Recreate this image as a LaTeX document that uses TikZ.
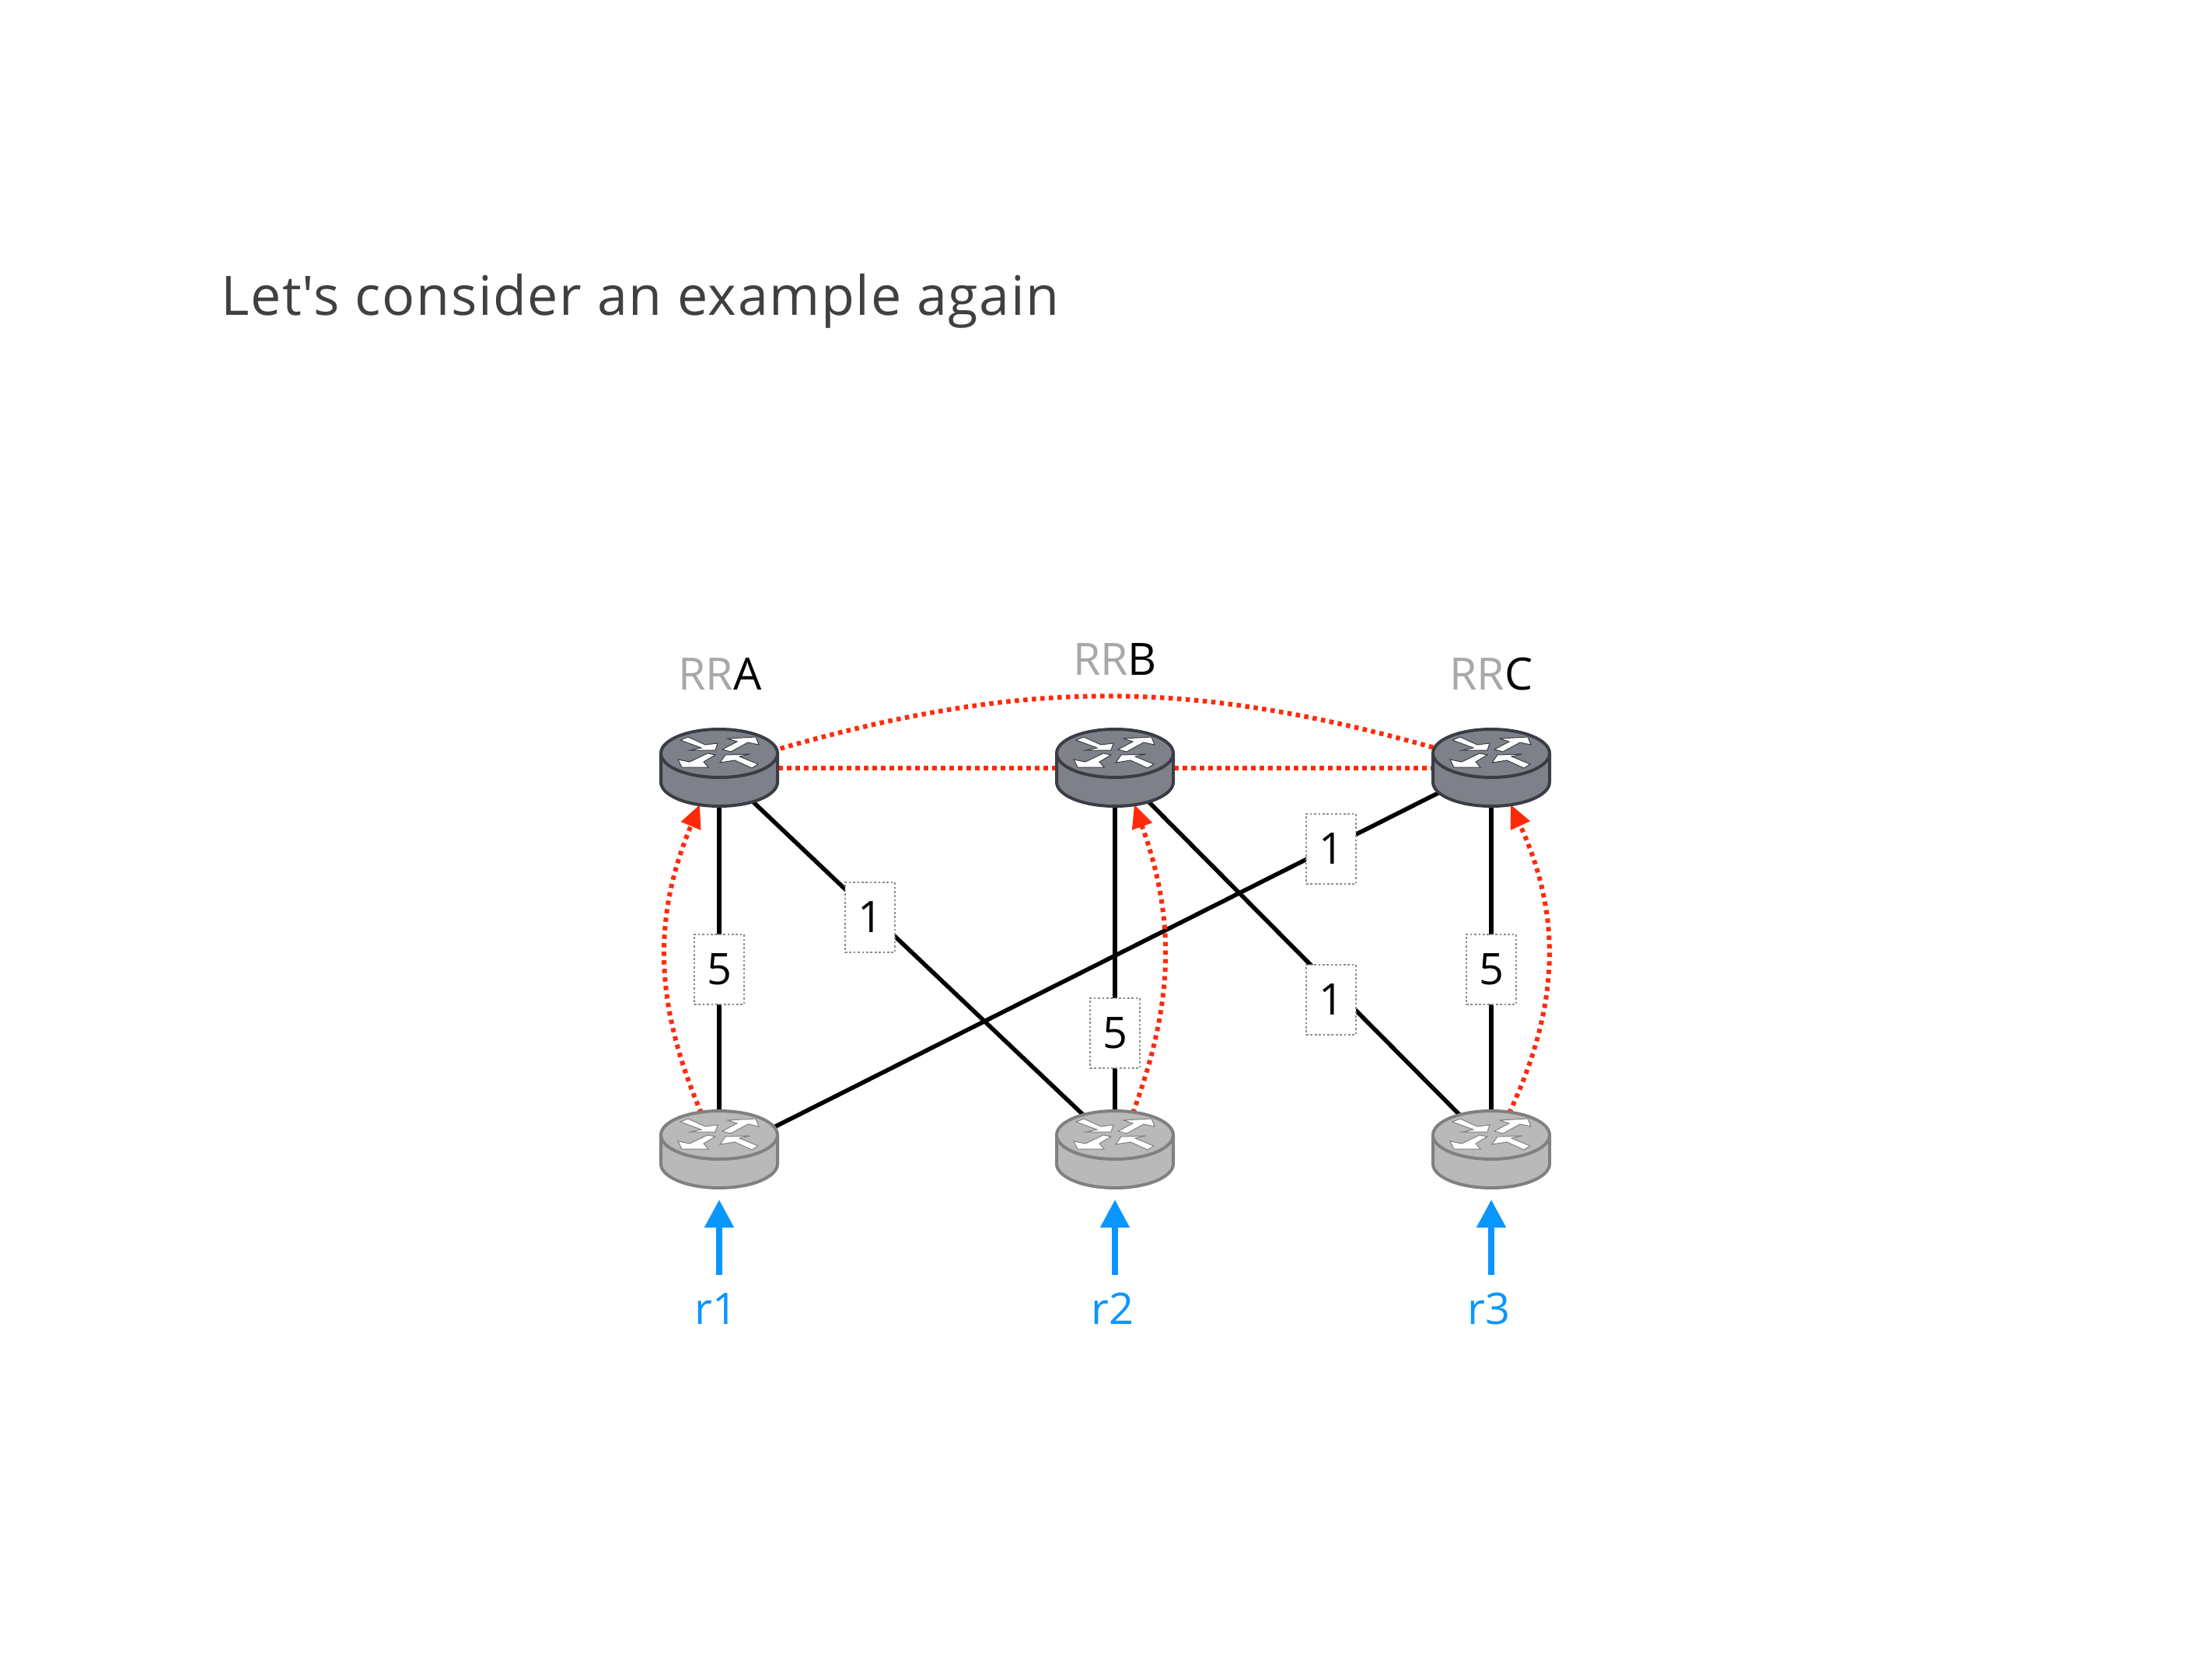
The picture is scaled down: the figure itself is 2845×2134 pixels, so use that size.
\documentclass[tikz,border=0pt]{standalone}
\usepackage{fontspec}
\setmainfont{Open Sans}
\newfontfamily\titlefont[LetterSpace=2.3]{Open Sans}
\usepackage{xcolor}
\usetikzlibrary{arrows.meta,shapes.geometric}
\definecolor{rtrdark}{HTML}{7e8189}
\definecolor{rtrdarkline}{HTML}{3a3d44}
\definecolor{rtrlight}{HTML}{b9b9b9}
\definecolor{rtrlightline}{HTML}{808080}
\definecolor{ibgp}{HTML}{ff2a0a}
\definecolor{flowblue}{HTML}{0a96ff}
\definecolor{ltgray}{HTML}{a8a8a8}
\definecolor{dotgray}{HTML}{8c8c8c}
\definecolor{titlegray}{HTML}{404040}
\tikzset{
  pics/router/.style 2 args={code={
    \draw[draw=#2,fill=#1,line width=0.04cm]
      (-75,-19)--(-75,18) arc[start angle=180,end angle=360,x radius=75,y radius=-31]--(75,-19);
    \draw[draw=#2,fill=#1,line width=0.04cm] (0,-19) ellipse[x radius=75,y radius=31];
    \begin{scope}[shift={(0,-19)},draw=#2,fill=white,line width=0.01cm]
      \filldraw (-50,-17)--(-40,-21)--(-18,-11)--(-2,-13)--(-5,-4)--(-37,-4)--(-23,-7)--cycle;
      \filldraw (4,-5)--(23,-15)--(11,-19)--(47,-21)--(51,-11)--(37,-14)--(15,-2)--cycle;
      \filldraw (-5,2)--(-20,11)--(-14,18)--(-48,18)--(-53,8)--(-38,11)--(-15,0)--cycle;
      \filldraw (50,14)--(42,19)--(20,9)--(1,12)--(8,2)--(40,1)--(26,4)--cycle;
    \end{scope}
  }}
}
\begin{document}
\begin{tikzpicture}[
  x=0.01cm,y=-0.01cm,
  rtr/.style={ellipse, inner sep=0pt, outer sep=0pt, minimum width=1.52cm, minimum height=0.99cm},
  link/.style={line width=0.055cm, color=black},
  sess/.style={line width=0.06cm, color=ibgp, dash pattern=on 0.055cm off 0.055cm},
  sessarr/.style={sess, -{Triangle[length=0.3cm,width=0.26cm]}},
  flow/.style={line width=0.08cm, color=flowblue, -{Triangle[length=0.36cm,width=0.36cm]}},
  cost/.style={rectangle, draw=dotgray, fill=white, line width=0.027cm,
               dash pattern=on 0.027cm off 0.027cm, minimum width=0.64cm, minimum height=0.9cm,
               inner sep=0pt, font=\fontsize{15.9}{18}\selectfont, text=black},
  rrname/.style={anchor=base, font=\fontsize{16.3}{18}\selectfont, text=ltgray},
  routelbl/.style={anchor=base, font=\fontsize{15.9}{18}\selectfont, text=flowblue},
]
  \useasboundingbox (0,0) rectangle (2845,2134);
  \node[anchor=base west, inner sep=0pt, font=\titlefont\fontsize{19.9}{24}\selectfont, text=titlegray] (title) at (284,406) {Let\textquotesingle s consider an example again};
  % Routers, the drawing goes on top at the end
  \node[rtr](ra) at (925,988){}; \node[rtr](rb) at (1434,988){}; \node[rtr](rc) at (1918,988){};
  \node[rtr](ca) at (925,1479){}; \node[rtr](cb) at (1434,1479){}; \node[rtr](cc) at (1918,1479){};
  \draw[link](ra)--(ca); \draw[link](rb)--(cb); \draw[link](rc)--(cc);
  \draw[link](ra.-45)--(cb.132); \draw[link](rb.-45)--(cc.132); \draw[link](ca.22)--(rc.205);
  % Sessions
  \draw[sess](ra)--(rb); \draw[sess](rb)--(rc);
  \draw[sess](ra.18) to[bend left=16] (rc.160);
  \draw[sessarr](ca.116) to[bend left=23] (ra.242);
  \draw[sessarr](cb.64) to[bend right=20] (rb.-62);
  \draw[sessarr](cc.64) to[bend right=25] (rc.-62);
  \foreach \n in {ra,rb,rc}{\pic at (\n) {router={rtrdark}{rtrdarkline}};}
  \foreach \n in {ca,cb,cc}{\pic at (\n) {router={rtrlight}{rtrlightline}};}
  \node[cost](c1) at (925,1247){5}; \node[cost](c2) at (1119,1180){1};
  \node[cost](c3) at (1434,1329){5}; \node[cost](c4) at (1712,1092){1};
  \node[cost](c5) at (1712,1286){1}; \node[cost](c6) at (1918,1247){5};
  \node[rrname](na) at (926,887){RR\textcolor{black}{A}};
  \node[rrname](nb) at (1434,868){RR\textcolor{black}{B}};
  \node[rrname](nc) at (1918,887){RR\textcolor{black}{C}};
  % Incoming routes
  \foreach \n/\x/\lx/\t in {ca/925/921/r1,cb/1434/1431/r2,cc/1918/1915/r3}{
    \coordinate (\n in) at (\x,1640); \coordinate (\n tip) at (\x,1543);
    \draw[flow](\n in)--(\n tip);
    \node[routelbl](\n lbl) at (\lx,1703){\t};
  }
\end{tikzpicture}
\end{document}
